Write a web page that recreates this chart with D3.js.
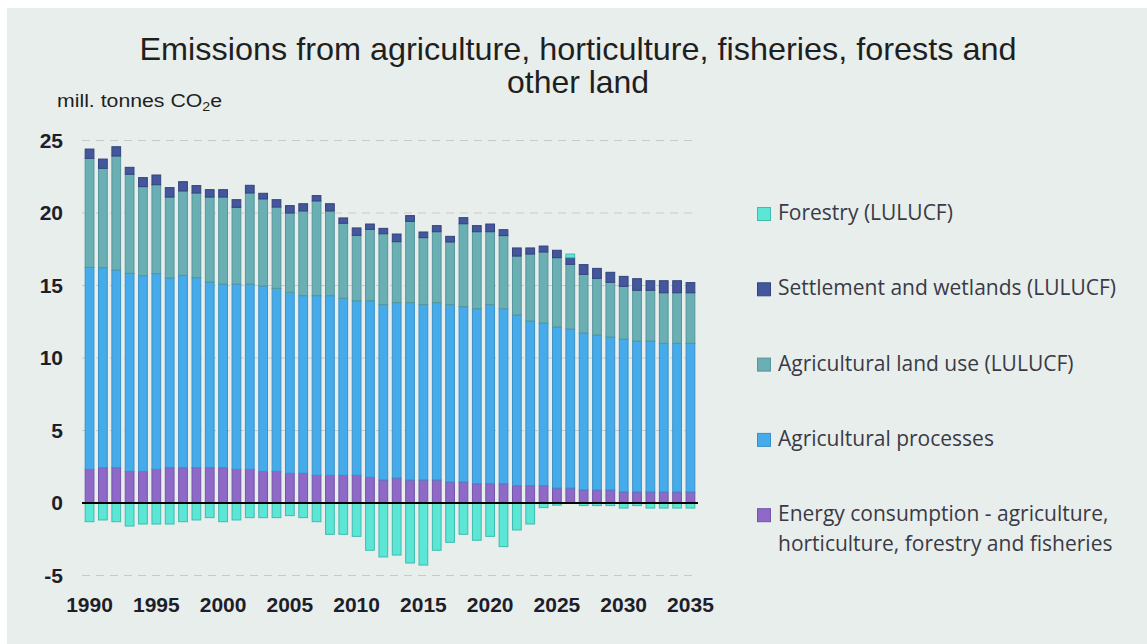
<!DOCTYPE html>
<html><head><meta charset="utf-8">
<script src="https://cdn.jsdelivr.net/npm/d3@7"></script>
<style>body{margin:0;background:#fff}</style>
</head><body>
<svg id="c" width="1147" height="644"></svg>
<script>
const years = ["1990","1991","1992","1993","1994","1995","1996","1997","1998","1999",
  "2000","2001","2002","2003","2004","2005","2006","2007","2008","2009",
  "2010","2011","2012","2013","2014","2015","2016","2017","2018","2019",
  "2020","2021","2022","2023","2024","2025","2026","2027","2028","2029",
  "2030","2031","2032","2033","2034","2035"];
const energy = [2.32,2.44,2.44,2.18,2.18,2.32,2.44,2.44,2.44,2.44,
  2.44,2.32,2.32,2.18,2.18,2.05,2.05,1.91,1.91,1.91,
  1.91,1.77,1.59,1.72,1.59,1.59,1.59,1.45,1.45,1.33,
  1.33,1.33,1.20,1.20,1.20,1.03,1.03,0.90,0.90,0.90,
  0.76,0.76,0.76,0.76,0.76,0.76];
const processes = [13.93,13.79,13.63,13.66,13.50,13.50,13.08,13.26,13.10,12.80,
  12.66,12.78,12.78,12.79,12.62,12.48,12.25,12.39,12.39,12.21,
  12.04,12.18,12.09,12.10,12.23,12.09,12.23,12.23,12.09,12.07,
  12.35,12.07,11.77,11.35,11.21,11.11,10.97,10.82,10.69,10.55,
  10.53,10.41,10.41,10.25,10.25,10.25];
const agLandUse = [7.52,6.85,7.86,6.83,6.14,6.13,5.58,5.82,5.84,5.86,
  6.00,5.29,6.28,6.00,5.61,5.47,5.84,6.53,5.84,5.17,
  4.51,4.92,4.89,4.20,5.60,4.62,4.89,4.32,5.72,5.31,
  5.03,5.04,4.06,4.62,4.90,4.78,4.46,4.05,3.90,3.77,
  3.65,3.50,3.50,3.49,3.49,3.49];
const settlement = [0.64,0.64,0.64,0.48,0.62,0.67,0.65,0.64,0.51,0.51,
  0.51,0.53,0.53,0.39,0.51,0.51,0.50,0.37,0.50,0.37,
  0.51,0.37,0.37,0.53,0.40,0.39,0.42,0.39,0.42,0.42,
  0.53,0.41,0.56,0.42,0.41,0.51,0.46,0.67,0.69,0.69,
  0.69,0.80,0.66,0.83,0.83,0.70];
const forestry = [-1.29,-1.17,-1.29,-1.59,-1.45,-1.45,-1.45,-1.29,-1.17,-1.01,
  -1.29,-1.17,-1.01,-1.01,-1.01,-0.87,-1.01,-1.29,-2.16,-2.16,
  -2.30,-3.26,-3.72,-3.59,-4.14,-4.28,-3.26,-2.71,-2.16,-2.57,
  -2.30,-3.01,-1.86,-1.45,-0.32,-0.15,0.25,-0.18,-0.18,-0.18,
  -0.35,-0.18,-0.35,-0.35,-0.35,-0.35];
const yTicks = [-5,0,5,10,15,20,25];
const xTickLabels = ["1990","1995","2000","2005","2010","2015","2020","2025","2030","2035"];
const seriesKeys = ["energy","processes","agLandUse","settlement","forestry"];
const seriesNames = {
  forestry: ["Forestry (LULUCF)"],
  settlement: ["Settlement and wetlands (LULUCF)"],
  agLandUse: ["Agricultural land use (LULUCF)"],
  processes: ["Agricultural processes"],
  energy: ["Energy consumption - agriculture,", "horticulture, forestry and fisheries"]
};
const legendOrder = ["forestry","settlement","agLandUse","processes","energy"];
const fills = {forestry:"#5be6d6", settlement:"#44579d", agLandUse:"#69afb4", processes:"#46abeb", energy:"#8e69c8"};
const strokes = {forestry:"#3fbcae", settlement:"#33437e", agLandUse:"#56969b", processes:"#3b91c6", energy:"#7454aa"};

const rows = years.map((yr,i)=>({year:yr, energy:energy[i], processes:processes[i], agLandUse:agLandUse[i], settlement:settlement[i], forestry:forestry[i]}));

const svg = d3.select("#c");
svg.append("rect").attr("x",7).attr("y",8).attr("width",1140).attr("height",636).attr("fill","#e8eeec");

const x = d3.scaleBand().domain(years).range([82,698]).paddingInner(0.27).paddingOuter(0.2);
const y = d3.scaleLinear().domain([-5,25]).range([575.5,140.5]);

// gridlines
svg.append("g").selectAll("line").data(yTicks.filter(d=>d!==0)).join("line")
  .attr("x1",82).attr("x2",698).attr("y1",d=>y(d)).attr("y2",d=>y(d))
  .attr("stroke","#c9c9c9").attr("stroke-width",1.2).attr("stroke-dasharray","8,6");

// bars
const stack = d3.stack().keys(seriesKeys).offset(d3.stackOffsetDiverging);
const stacked = stack(rows);
svg.append("g").selectAll("g").data(stacked).join("g")
  .attr("fill",d=>fills[d.key]).attr("stroke",d=>strokes[d.key]).attr("stroke-width",1)
  .selectAll("rect").data(d=>d).join("rect")
  .attr("x",d=>x(d.data.year)+0.5)
  .attr("width",x.bandwidth()-1)
  .attr("y",d=>y(Math.max(d[0],d[1])))
  .attr("height",d=>Math.abs(y(d[0])-y(d[1])));

// zero line
svg.append("line").attr("x1",82).attr("x2",698).attr("y1",y(0)).attr("y2",y(0))
  .attr("stroke","#000").attr("stroke-width",2);

// y axis labels
const yAxis = d3.axisLeft(y).tickValues(yTicks).tickFormat(d=>String(d)).tickSize(0).tickPadding(0);
const gy = svg.append("g").attr("transform","translate(63,0)").call(yAxis);
gy.select(".domain").remove();
gy.selectAll("text").attr("font-family","'Liberation Sans', Arial, sans-serif")
  .attr("font-weight","bold").attr("font-size",21).attr("fill","#1e1e2a");

// x axis labels
const xAxis = d3.axisBottom(x).tickValues(xTickLabels).tickSize(0).tickPadding(0);
const gx = svg.append("g").attr("transform","translate(0,597)").call(xAxis);
gx.select(".domain").remove();
gx.selectAll("text").attr("font-family","'Liberation Sans', Arial, sans-serif")
  .attr("font-weight","bold").attr("font-size",21).attr("fill","#1e1e2a");

// title
const tf = "'Liberation Sans Narrow','Arial Narrow','Liberation Sans',sans-serif";
svg.append("text").attr("x",578).attr("y",60).attr("text-anchor","middle")
  .attr("font-family",tf).attr("font-size",32).attr("fill","#1f1f1f")
  .attr("textLength",877).attr("lengthAdjust","spacingAndGlyphs")
  .text("Emissions from agriculture, horticulture,  fisheries, forests and");
svg.append("text").attr("x",578).attr("y",93).attr("text-anchor","middle")
  .attr("font-family",tf).attr("font-size",32).attr("fill","#1f1f1f")
  .attr("textLength",142).attr("lengthAdjust","spacingAndGlyphs")
  .text("other land");

// unit label
const ul = svg.append("text").attr("x",57).attr("y",107)
  .attr("font-family",tf).attr("font-size",18).attr("fill","#1f1f1f")
  .attr("textLength",165).attr("lengthAdjust","spacingAndGlyphs");
ul.append("tspan").text("mill. tonnes CO");
ul.append("tspan").attr("font-size",12).attr("dy",4).text("2");
ul.append("tspan").attr("dy",-4).text("e");

// legend
const lg = svg.append("g");
legendOrder.forEach((k,i)=>{
  const yy = 207 + i*75.3;
  lg.append("rect").attr("x",757.5).attr("y",yy+0.5).attr("width",13).attr("height",13)
    .attr("fill",fills[k]).attr("stroke",strokes[k]).attr("stroke-width",1);
  seriesNames[k].forEach((line,j)=>{
    lg.append("text").attr("x",778).attr("y",yy+13+j*29.5)
      .attr("font-family","'Open Sans', 'Noto Sans', sans-serif").attr("font-size",21)
      .attr("letter-spacing",0).attr("fill","#3a3a46").text(line);
  });
});
</script>
</body></html>
